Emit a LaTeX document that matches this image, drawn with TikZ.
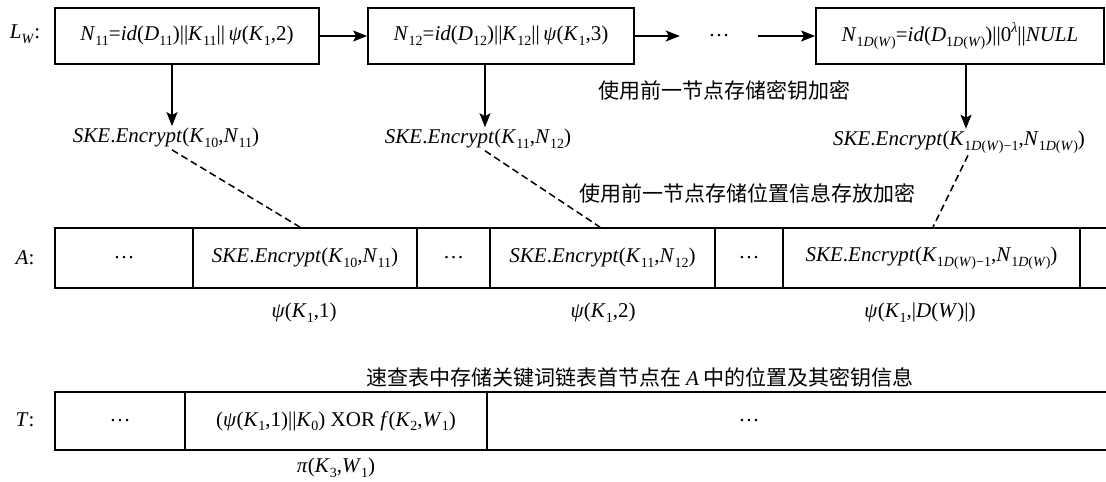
\documentclass[tikz,border=0pt]{standalone}
\usepackage{fontspec}
\setmainfont{Liberation Serif}
\newfontfamily\cjk{Noto Sans CJK SC}
\usetikzlibrary{arrows.meta}
\newcommand\ssb[1]{\raisebox{-0.22em}{\fontsize{14}{14}\selectfont #1}}
\newcommand\ssp[1]{\raisebox{0.42em}{\fontsize{14}{14}\selectfont #1}}
\begin{document}
\begin{tikzpicture}[x=1pt,y=-1pt, font=\fontsize{21}{24}\selectfont,
 box/.style={draw, line width=1.8pt, minimum height=56pt, inner sep=0pt},
 cell/.style={draw, line width=1.8pt, minimum height=60pt, inner sep=0pt},
 tcell/.style={draw, line width=1.8pt, minimum height=58pt, inner sep=0pt},
 arr/.style={line width=1.4pt, -{Stealth[length=14pt,width=11pt,inset=3pt]}},
 dsh/.style={line width=1.5pt, dash pattern=on 7pt off 4pt},
 lbl/.style={inner sep=2pt}]
\useasboundingbox (0,0) rectangle (1106,482);
\clip (0,0) rectangle (1106,482);
% row L_W
\node (lw) at (25,34) {\textit{L}\ssb{\textit{W}}:};
\node[box, minimum width=264pt] (b1) at (187,36) {\textit{N}\ssb{11}=\textit{id}(\textit{D}\ssb{11})||\textit{K}\ssb{11}||\,\textit{ψ}(\textit{K}\ssb{1},2)};
\node[box, minimum width=266pt] (b2) at (501,36) {\textit{N}\ssb{12}=\textit{id}(\textit{D}\ssb{12})||\textit{K}\ssb{12}||\,\textit{ψ}(\textit{K}\ssb{1},3)};
\node[lbl, minimum width=78pt] (dots) at (719,36) {…};
\node[box, minimum width=288pt] (b3) at (960,36) {\textit{N}\ssb{1\textit{D}(\textit{W})}=\textit{id}(\textit{D}\ssb{1\textit{D}(\textit{W})})||0\ssp{\textit{λ}}||\textit{NULL}};
\draw[arr] (b1) -- (b2);
\draw[arr] (b2) -- (dots);
\draw[arr] (dots) -- (b3);
% encrypted labels
\coordinate (x1) at (172,0);
\coordinate (x2) at (485,0);
\coordinate (x3) at (966,0);
\node[lbl] (s1) at (166,138) {\textit{SKE}.\textit{Encrypt}(\textit{K}\ssb{10},\textit{N}\ssb{11})};
\node[lbl] (s2) at (478,139) {\textit{SKE}.\textit{Encrypt}(\textit{K}\ssb{11},\textit{N}\ssb{12})};
\node[lbl] (s3) at (959,142) {\textit{SKE}.\textit{Encrypt}(\textit{K}\ssb{1\textit{D}(\textit{W})−1},\textit{N}\ssb{1\textit{D}(\textit{W})})};
\draw[arr] (b1.south -| x1) -- (s1.north -| x1);
\draw[arr] (b2.south -| x2) -- (s2.north -| x2);
\draw[arr] (b3.south -| x3) -- (s3.north -| x3);
\node (t1) at (724,90) {\cjk 使用前一节点存储密钥加密};
\node (t2) at (747,193) {\cjk 使用前一节点存储位置信息存放加密};
% array A
\node (al) at (25,258) {\textit{A}:};
\node[cell, minimum width=138pt] (c1) at (124,258) {…};
\node[cell, minimum width=224pt] (c2) at (305,258) {\textit{SKE}.\textit{Encrypt}(\textit{K}\ssb{10},\textit{N}\ssb{11})};
\node[cell, minimum width=73pt] (c3) at (453.5,258) {…};
\node[cell, minimum width=225pt] (c4) at (602.5,258) {\textit{SKE}.\textit{Encrypt}(\textit{K}\ssb{11},\textit{N}\ssb{12})};
\node[cell, minimum width=68pt] (c5) at (749,258) {…};
\node[cell, minimum width=297pt] (c6) at (931.5,258) {\textit{SKE}.\textit{Encrypt}(\textit{K}\ssb{1\textit{D}(\textit{W})−1},\textit{N}\ssb{1\textit{D}(\textit{W})})};
\node[cell, minimum width=60pt] (c7) at (1110,258) {};
\draw[dsh] ([xshift=6pt]s1.south) -- ([xshift=-5pt]c2.north);
\draw[dsh] ([xshift=7pt]s2.south) -- ([xshift=-2.5pt]c4.north);
\draw[dsh] ([xshift=9pt]s3.south) -- ([xshift=1.5pt]c6.north);
\node (p1) at (304,313) {\textit{ψ}(\textit{K}\ssb{1},1)};
\node (p2) at (603,313) {\textit{ψ}(\textit{K}\ssb{1},2)};
\node (p3) at (920,313) {\textit{ψ}(\textit{K}\ssb{1},|\textit{D}(\textit{W})|)};
% table T
\node (t3) at (640,377) {\cjk 速查表中存储关键词链表首节点在 {\rmfamily\itshape A} 中的位置及其密钥信息};
\node (tl) at (25,420) {\textit{T}:};
\node[tcell, minimum width=130pt] (d1) at (120,421) {…};
\node[tcell, minimum width=302pt] (d2) at (336,421) {(\textit{ψ}(\textit{K}\ssb{1},1)||\textit{K}\ssb{0}) XOR \textit{f}(\textit{K}\ssb{2},\textit{W}\ssb{1})};
\node[tcell, minimum width=660pt] (d3) at (817,421) {};
\node (dd) at (749,421) {…};
\node (pi) at (336,468) {\textit{π}(\textit{K}\ssb{3},\textit{W}\ssb{1})};
\end{tikzpicture}
\end{document}
